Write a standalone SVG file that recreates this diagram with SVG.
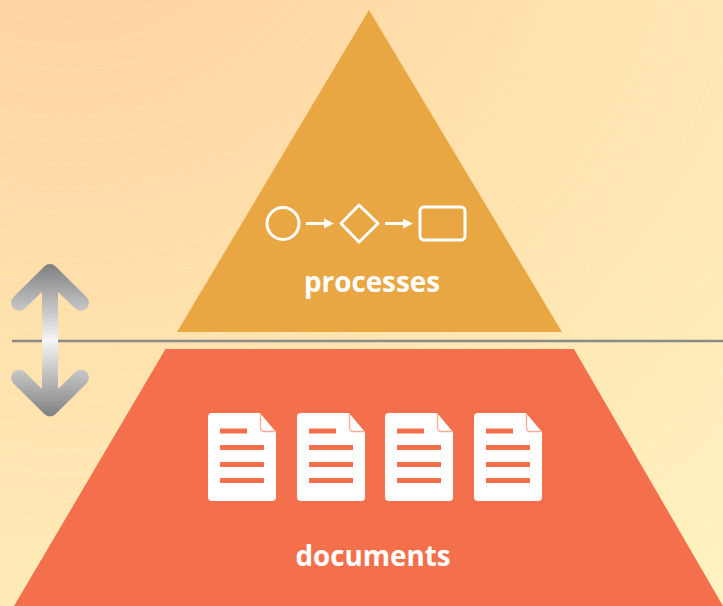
<svg xmlns="http://www.w3.org/2000/svg" width="723" height="606" viewBox="0 0 723 606">
<defs>
<radialGradient id="bg" cx="65" cy="-180" r="1024" gradientUnits="userSpaceOnUse"><stop offset="0.187" stop-color="#ffd4a3"/><stop offset="0.47" stop-color="#ffe0ab"/><stop offset="1" stop-color="#fff3c1"/></radialGradient>
<linearGradient id="steel" x1="0" y1="264" x2="0" y2="417" gradientUnits="userSpaceOnUse"><stop offset="0" stop-color="#7f7f7f"/><stop offset="0.5" stop-color="#f5f5f5"/><stop offset="1" stop-color="#7f7f7f"/></linearGradient>
<g id="doc"><path d="M4 0H52L68 19V84a4 4 0 0 1-4 4H4a4 4 0 0 1-4-4V4a4 4 0 0 1 4-4Z" fill="#fff"/><path d="M52.500 1V15a3.500 3.500 0 0 0 3.500 3.500H67" fill="none" stroke="#f4704d" stroke-opacity=".6" stroke-width="1.300"/><g class="ln"><rect x="12" y="15.500" width="27" height="5"/><rect x="12" y="32" width="44" height="5"/><rect x="12" y="49" width="44" height="5"/><rect x="12" y="65" width="44" height="5"/></g></g>
</defs>
<style>
.arcs circle{fill:none;stroke:#fff;stroke-opacity:.25;stroke-width:.8;stroke-dasharray:14 3}
.w{fill:none;stroke:#fff;stroke-width:3}
.ln rect{fill:#f4704d}
.lbl{font-family:"Open Sans","Noto Sans",sans-serif;font-weight:700;font-size:27.800px;fill:#fff;text-anchor:middle}
</style>
<rect id="background" width="723" height="606" fill="url(#bg)"/>
<g id="arcs" class="arcs">
<circle cx="68" cy="-176.500" r="199"/><circle cx="68" cy="-178.300" r="224.500"/><circle cx="68" cy="-180.100" r="250"/><circle cx="68" cy="-181.900" r="275.500"/><circle cx="68" cy="-183.700" r="301"/><circle cx="68" cy="-185.500" r="326.500"/><circle cx="68" cy="-187.300" r="352"/><circle cx="68" cy="-189.100" r="377.500"/><circle cx="68" cy="-190.900" r="403"/><circle cx="68" cy="-192.700" r="428.500"/><circle cx="68" cy="-194.500" r="454"/><circle cx="68" cy="-196.300" r="479.500"/><circle cx="68" cy="-198.100" r="505"/><circle cx="68" cy="-199.900" r="530.500"/><circle cx="68" cy="-201.700" r="556"/><circle cx="68" cy="-203.500" r="581.500"/><circle cx="68" cy="-205.300" r="607"/><circle cx="68" cy="-207.100" r="632.500"/><circle cx="68" cy="-208.900" r="658"/><circle cx="68" cy="-210.700" r="683.500"/><circle cx="68" cy="-212.500" r="709"/><circle cx="68" cy="-214.300" r="734.500"/><circle cx="68" cy="-216.100" r="760"/><circle cx="68" cy="-217.900" r="785.500"/><circle cx="68" cy="-219.700" r="811"/><circle cx="68" cy="-221.500" r="836.500"/><circle cx="68" cy="-223.300" r="862"/><circle cx="68" cy="-225.100" r="887.500"/><circle cx="68" cy="-226.900" r="913"/><circle cx="68" cy="-228.700" r="938.500"/><circle cx="68" cy="-230.500" r="964"/><circle cx="68" cy="-232.300" r="989.500"/><circle cx="68" cy="-234.100" r="1015"/>
</g>
<g id="processes">
<path d="M369 10L562 332H177Z" fill="#e9a744"/>
<circle class="w" cx="283" cy="223.500" r="16"/>
<path class="w" d="M306 223.500H327"/><path d="M324 218.500L334 223.500L324 228.500Z" fill="#fff"/>
<path class="w" stroke-linejoin="round" d="M359 205L378 223.500L359 242L341 223.500Z"/>
<path class="w" d="M385 223.500H406"/><path d="M403 218.500L413 223.500L403 228.500Z" fill="#fff"/>
<rect class="w" x="420" y="207" width="45" height="33" rx="4"/>
<text class="lbl" x="372" y="292">processes</text>
</g>
<g id="documents">
<path d="M165.500 349H574L723 606H14Z" fill="#f4704d"/>
<use href="#doc" x="208" y="413"/><use href="#doc" x="297" y="413"/><use href="#doc" x="385" y="413"/><use href="#doc" x="474" y="413"/>
<text class="lbl" x="373" y="566">documents</text>
</g>
<g id="connectors">
<path d="M12 341H723" stroke="#8a8a8a" stroke-width="2.500" fill="none"/>
<path d="M50 264a8 8 0 0 1 5.700 2.400L86.500 297a8 8 0 0 1-11.300 11.400L58 292V389L75.200 372a8 8 0 0 1 11.300 11.400L55.700 414a8 8 0 0 1-11.400 0L13.500 383.400A8 8 0 0 1 24.800 372L42 389V292L24.800 308.400A8 8 0 0 1 13.500 297L44.300 266.400A8 8 0 0 1 50 264Z" fill="url(#steel)"/>
</g>
</svg>
